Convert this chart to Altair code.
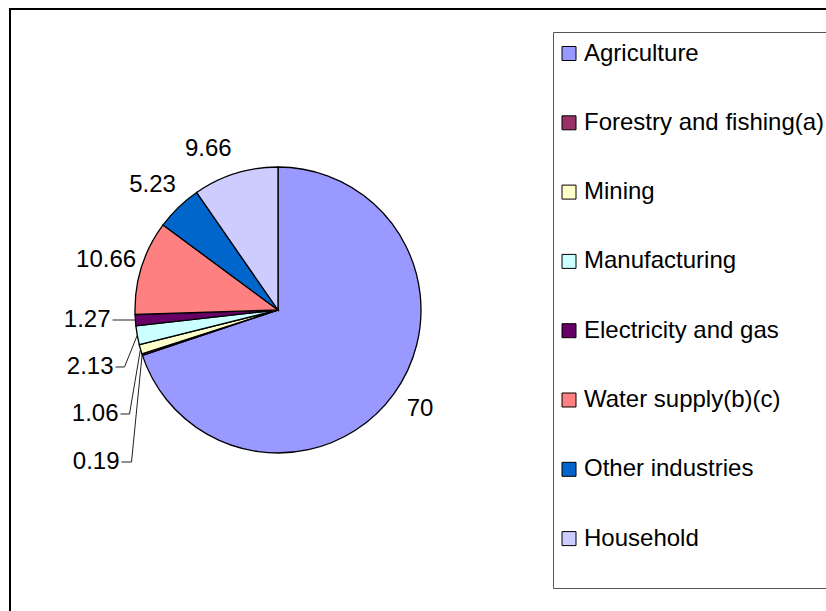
import math
import altair as alt
import pandas as pd

# ---------------- data ----------------
CATEGORIES = [
    "Agriculture",
    "Forestry and fishing(a)",
    "Mining",
    "Manufacturing",
    "Electricity and gas",
    "Water supply(b)(c)",
    "Other industries",
    "Household",
]
VALUES = [70, 0.19, 1.06, 2.13, 1.27, 10.66, 5.23, 9.66]
LABELS = ["70", "0.19", "1.06", "2.13", "1.27", "10.66", "5.23", "9.66"]

# ---------------- styles / layout ----------------
COLORS = ["#9999FF", "#993366", "#FFFFCC", "#CCFFFF", "#660066", "#FF8080", "#0066CC", "#CCCCFF"]
W, H = 826, 611
CX, CY, RADIUS = 278, 310, 143
FONT = "Liberation Sans"
FS = 24

# label placement: "out" = centred label beyond the rim, "leader" = right-aligned label with leader line
LABEL_MODE = ["out", "leader", "leader", "leader", "leader", "out", "out", "out"]
LABEL_DIST = [173, 0, 0, 0, 0, 178, 176, 170]          # distance of label centre (out labels)
LABEL_SHIFT_X = [1.6, 0, 0, 0, 0, -2, -3, -19]
LABEL_SHIFT_Y = [-2, 0, 0, 0, 0, 3, 1.4, 1]
LEADER_TEXT_X = [0, 119.5, 118.5, 113.5, 110.5, 0, 0, 0]  # right edge of leader labels
LEADER_TEXT_Y = [0, 462, 414, 367, 320, 0, 0, 0]
LEADER_ELBOW = [0, 10, 9, 9, -1, 0, 0, 0]               # -1: straight line to the rim

total = sum(VALUES)
rows, lab_out, lab_lead, lines = [], [], [], []
cum = 0.0
for i, (c, v, lab) in enumerate(zip(CATEGORIES, VALUES, LABELS)):
    mid = (cum + v / 2) / total * 2 * math.pi
    cum += v
    rows.append({"category": c, "value": v, "idx": i})
    s, co = math.sin(mid), math.cos(mid)
    if LABEL_MODE[i] == "out":
        d = LABEL_DIST[i]
        lab_out.append({"px": CX + d * s + LABEL_SHIFT_X[i],
                        "py": CY - d * co + LABEL_SHIFT_Y[i], "text": lab})
    else:
        tx, ty = LEADER_TEXT_X[i], LEADER_TEXT_Y[i]
        ex, ey = CX + RADIUS * s, CY - RADIUS * co
        lab_lead.append({"px": tx, "py": ty, "text": lab})
        elbow_x = ex if LEADER_ELBOW[i] < 0 else tx + 2 + LEADER_ELBOW[i]
        pts = [(tx + 2, ty), (elbow_x, ty), (ex, ey)]
        for k, (px, py) in enumerate(pts):
            lines.append({"lab": lab, "k": k, "px": px, "py": py})

df = pd.DataFrame(rows)
df_out = pd.DataFrame(lab_out)
df_lead = pd.DataFrame(lab_lead)
df_lines = pd.DataFrame(lines)

XS = alt.Scale(domain=[0, W], range=[0, W], nice=False, zero=False)
YS = alt.Scale(domain=[0, H], range=[0, H], nice=False, zero=False)
X = alt.X("px:Q", scale=XS, axis=None)
Y = alt.Y("py:Q", scale=YS, axis=None)

frame_df = pd.DataFrame({"a": [0]})
outer = alt.Chart(frame_df).mark_rect(fill=None, stroke="#000000", strokeWidth=2).encode(
    x=alt.value(10), x2=alt.value(W + 60), y=alt.value(9), y2=alt.value(H + 60))
legend_box = alt.Chart(frame_df).mark_rect(fill="white", stroke="#555555", strokeWidth=1).encode(
    x=alt.value(553.5), x2=alt.value(W + 60), y=alt.value(32.5), y2=alt.value(588.5))

pie = alt.Chart(df).mark_arc(outerRadius=RADIUS, stroke="#000000", strokeWidth=1.3).encode(
    theta=alt.Theta("value:Q", stack=True),
    order=alt.Order("idx:Q"),
    color=alt.Color(
        "category:N",
        sort=CATEGORIES,
        scale=alt.Scale(domain=CATEGORIES, range=COLORS),
        legend=alt.Legend(
            title=None,
            orient="none",
            legendX=557,
            legendY=41.5,
            symbolType="square",
            symbolSize=196,
            symbolStrokeColor="#000000",
            symbolStrokeWidth=1,
            symbolOpacity=1,
            labelFont=FONT,
            labelFontSize=FS,
            labelColor="#000000",
            labelOffset=3,
            rowPadding=45.3,
            padding=0,
            labelLimit=400,
        ),
    ),
    x=alt.value(CX),
    y=alt.value(CY),
)

leader = alt.Chart(df_lines).mark_line(color="#222222", strokeWidth=1).encode(
    x=X, y=Y, detail="lab:N", order="k:Q")

txt_out = alt.Chart(df_out).mark_text(
    font=FONT, fontSize=FS, color="#000000", align="center", baseline="middle"
).encode(x=X, y=Y, text="text:N")
txt_lead = alt.Chart(df_lead).mark_text(
    font=FONT, fontSize=FS, color="#000000", align="right", baseline="middle"
).encode(x=X, y=Y, text="text:N")

chart = alt.layer(outer, legend_box, pie, leader, txt_out, txt_lead).properties(
    width=W, height=H, padding=0, autosize=alt.AutoSizeParams(type="none"),
    background="white",
).configure_view(stroke=None)

chart.save("out.html", embed_options={"renderer": "svg", "actions": False})
